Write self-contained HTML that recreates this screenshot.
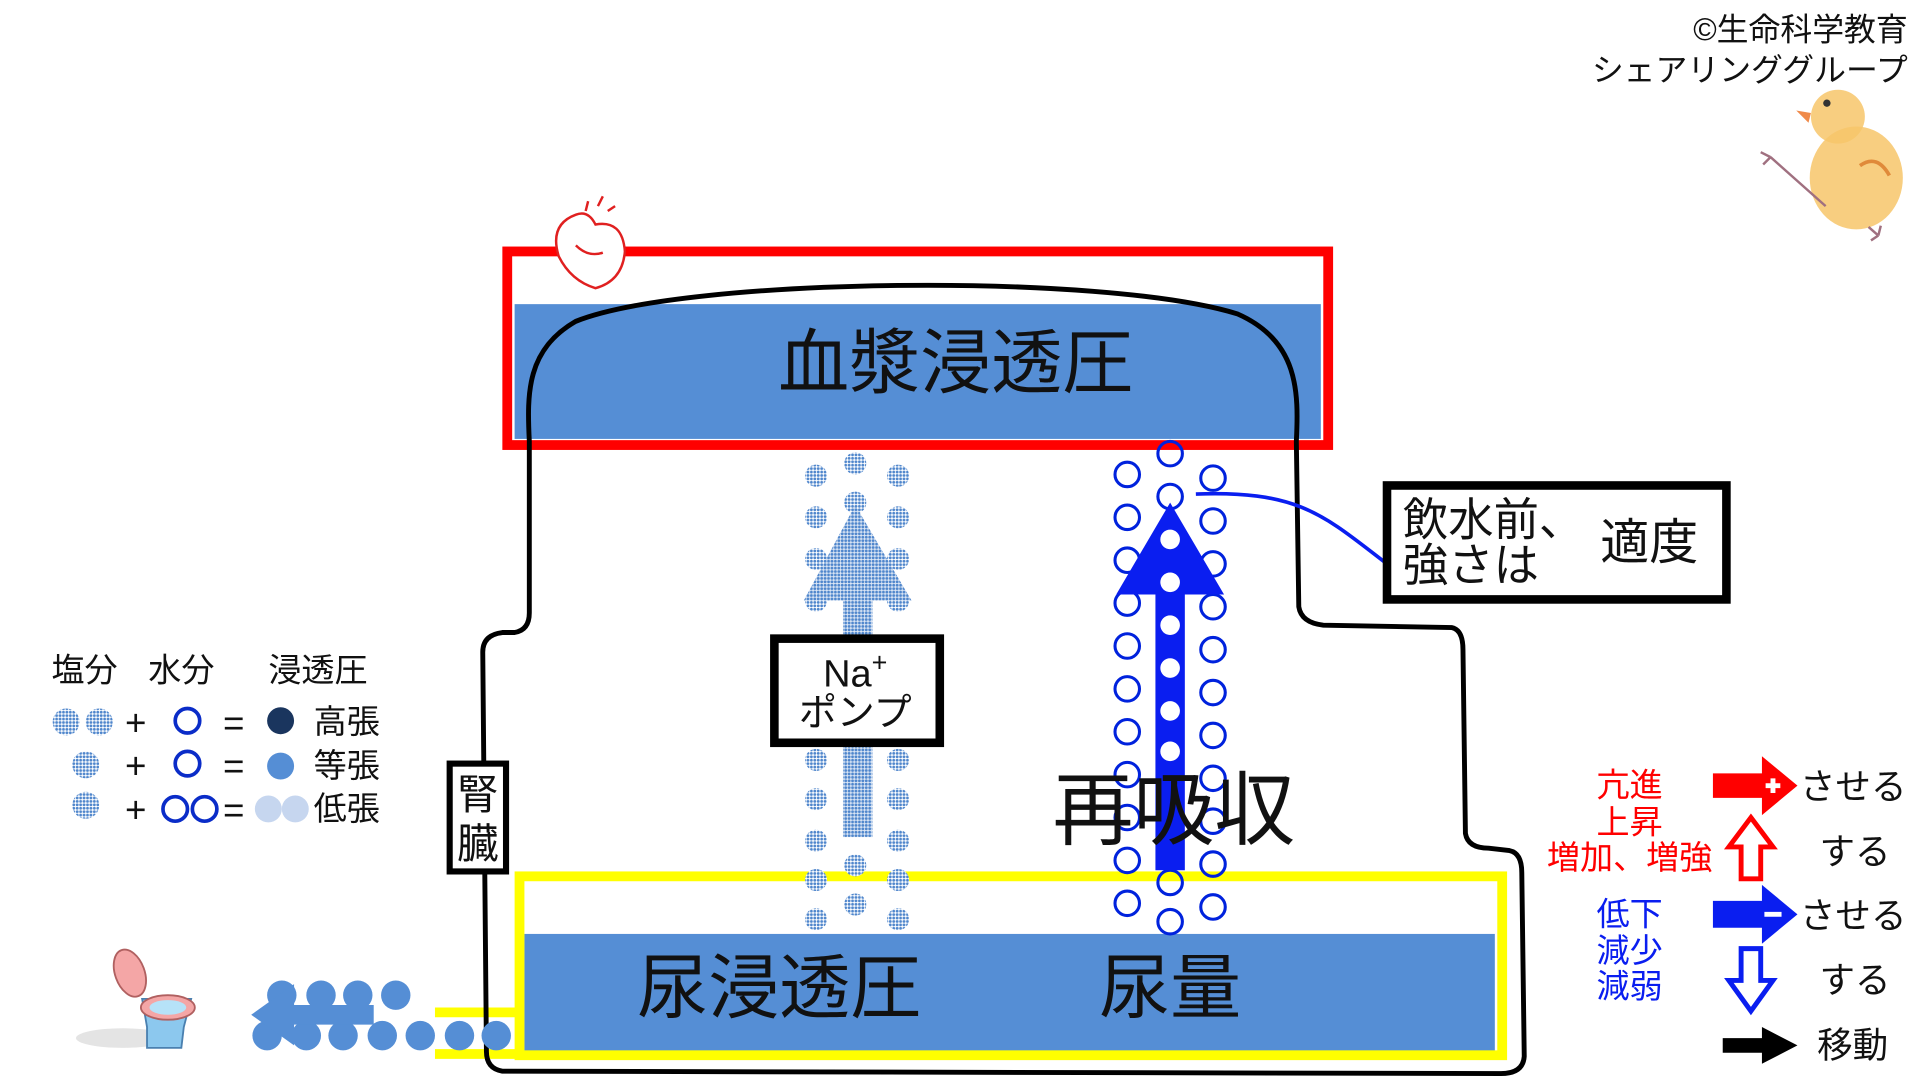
<!DOCTYPE html>
<html><head><meta charset="utf-8"><style>
html,body{margin:0;padding:0;background:#fff;}
svg{display:block;}
text{font-family:"Liberation Sans","Noto Sans CJK JP",sans-serif;}
</style></head><body>
<svg width="1920" height="1080" viewBox="0 0 1567 881" xmlns="http://www.w3.org/2000/svg">
<defs>
<pattern id="dp" width="2.8" height="2.8" patternUnits="userSpaceOnUse">
<rect width="2.8" height="2.8" fill="#fff"/><circle cx="1.4" cy="1.4" r="1.15" fill="#4f86cc"/>
</pattern>
<pattern id="dp2" width="2.8" height="2.8" patternUnits="userSpaceOnUse">
<rect width="2.8" height="2.8" fill="#dde7f5"/><circle cx="1.4" cy="1.4" r="1.15" fill="#4f86cc"/>
</pattern>
</defs>

<text x="1557" y="33" font-size="26" text-anchor="end" fill="#111">©生命科学教育</text>
<text x="1557" y="66" font-size="26" text-anchor="end" fill="#111">シェアリンググループ</text>
<g>
<ellipse cx="1500" cy="95" rx="22" ry="22" fill="#f7c56a" opacity="0.85"/>
<ellipse cx="1515" cy="145" rx="38" ry="42" fill="#f7c56a" opacity="0.85"/>
<path d="M1518 135 q14 -10 24 8" stroke="#e08a3a" stroke-width="3" fill="none"/>
<polygon points="1478,92 1466,90 1476,100" fill="#f08a4a"/>
<circle cx="1491" cy="84" r="3" fill="#333"/>
<path d="M1490 168 L1445 128 M1445 128 l-8 -4 M1445 128 l-6 6" stroke="#a07080" stroke-width="2" fill="none"/>
<path d="M1525 185 L1533 192 M1533 192 l-6 4 M1533 192 l2 -8" stroke="#a07080" stroke-width="2" fill="none"/>
</g>

<rect x="420" y="248" width="658" height="110" fill="#558ED5"/>
<rect x="414" y="205" width="670" height="158" fill="none" stroke="#ff0000" stroke-width="8"/>
<text x="780" y="316" font-size="58" text-anchor="middle" fill="#111">血漿浸透圧</text>
<g stroke="#e02020" stroke-width="2" fill="#fff">
<path d="M470 175 q-22 8 -14 34 q10 20 30 26 q22 -6 24 -30 q-2 -26 -24 -22 q-6 -12 -16 -8z"/>
<path d="M478 172 l2 -8 M488 168 l4 -8 M496 172 l6 -4" fill="none"/>
<path d="M470 200 q10 10 22 6" fill="none"/>
</g>

<rect x="428" y="762" width="792" height="96" fill="#558ED5"/>
<rect x="424" y="715" width="802" height="146" fill="none" stroke="#ffff00" stroke-width="8"/>
<line x1="355" y1="826" x2="424" y2="826" stroke="#ffff00" stroke-width="8"/>
<line x1="355" y1="860" x2="424" y2="860" stroke="#ffff00" stroke-width="8"/>
<text x="636" y="826" font-size="58" text-anchor="middle" fill="#111">尿浸透圧</text>
<text x="955" y="826" font-size="58" text-anchor="middle" fill="#111">尿量</text>

<path d="M432 360 C430 320 430 285 470 262 C560 226 900 222 1010 256 C1060 278 1060 320 1058 360 L1060 495 Q1062 508 1080 510 L1185 512 Q1194 514 1194 530 L1196 680 Q1198 692 1215 692 L1232 694 Q1242 696 1242 712 L1244 862 Q1243 876 1225 876 L410 874 Q397 872 397 858 L394 532 Q394 518 410 516 L420 516 Q432 514 432 500 Z" fill="none" stroke="#000" stroke-width="4"/>

<g fill="url(#dp)">
<circle cx="666" cy="388" r="9"/><circle cx="733" cy="388" r="9"/><circle cx="698" cy="378" r="9"/>
<circle cx="666" cy="422" r="9"/><circle cx="733" cy="422" r="9"/><circle cx="698" cy="410" r="9"/>
<circle cx="666" cy="456" r="9"/><circle cx="733" cy="456" r="9"/>
<circle cx="666" cy="490" r="9"/><circle cx="733" cy="490" r="9"/>
<circle cx="666" cy="620" r="9"/><circle cx="733" cy="620" r="9"/>
<circle cx="666" cy="652" r="9"/><circle cx="733" cy="652" r="9"/>
<circle cx="666" cy="686" r="9"/><circle cx="733" cy="686" r="9"/>
<circle cx="666" cy="718" r="9"/><circle cx="733" cy="718" r="9"/><circle cx="698" cy="706" r="9"/>
<circle cx="666" cy="750" r="9"/><circle cx="733" cy="750" r="9"/><circle cx="698" cy="738" r="9"/>
</g>
<polygon points="698,412 744,490 712,490 712,683 688,683 688,490 656,490" fill="url(#dp2)"/>
<rect x="632" y="521" width="135" height="85" fill="#fff" stroke="#000" stroke-width="7"/>
<text x="698" y="560" font-size="31" text-anchor="middle" fill="#111">Na<tspan font-size="22" dy="-12">+</tspan></text>
<text x="698" y="592" font-size="31" text-anchor="middle" fill="#111">ポンプ</text>

<g fill="none" stroke="#0022dd" stroke-width="2.5">
<circle cx="920" cy="387" r="10"/><circle cx="990" cy="390" r="10"/>
<circle cx="920" cy="422" r="10"/><circle cx="990" cy="425" r="10"/>
<circle cx="920" cy="457" r="10"/><circle cx="990" cy="460" r="10"/>
<circle cx="920" cy="492" r="10"/><circle cx="990" cy="495" r="10"/>
<circle cx="920" cy="527" r="10"/><circle cx="990" cy="530" r="10"/>
<circle cx="920" cy="562" r="10"/><circle cx="990" cy="565" r="10"/>
<circle cx="920" cy="597" r="10"/><circle cx="990" cy="600" r="10"/>
<circle cx="920" cy="632" r="10"/><circle cx="990" cy="635" r="10"/>
<circle cx="920" cy="667" r="10"/><circle cx="990" cy="670" r="10"/>
<circle cx="920" cy="702" r="10"/><circle cx="990" cy="705" r="10"/>
<circle cx="920" cy="737" r="10"/><circle cx="990" cy="740" r="10"/>
<circle cx="955" cy="370" r="10"/><circle cx="955" cy="405" r="10"/>
<circle cx="955" cy="720" r="10"/><circle cx="955" cy="752" r="10"/>
</g>
<polygon points="955,410 999,485 967,485 967,710 943,710 943,485 911,485" fill="#0a1ef0"/>
<g fill="#fff">
<circle cx="955" cy="440" r="8"/><circle cx="955" cy="475" r="8"/><circle cx="955" cy="510" r="8"/>
<circle cx="955" cy="545" r="8"/><circle cx="955" cy="580" r="8"/><circle cx="955" cy="613" r="8"/>
</g>
<text x="958" y="684" font-size="66" text-anchor="middle" fill="#111">再吸収</text>

<path d="M976 403 C1060 400 1080 420 1132 460" fill="none" stroke="#0a1ef0" stroke-width="3"/>
<rect x="1132" y="396" width="277" height="93" fill="#fff" stroke="#000" stroke-width="7"/>
<text x="1145" y="437" font-size="37" fill="#111">飲水前、</text>
<text x="1145" y="474" font-size="37" fill="#111">強さは</text>
<text x="1306" y="456" font-size="40" fill="#111">適度</text>

<rect x="367" y="623" width="46" height="88" fill="#fff" stroke="#000" stroke-width="5"/>
<text x="390" y="660" font-size="34" text-anchor="middle" fill="#111">腎</text>
<text x="390" y="700" font-size="34" text-anchor="middle" fill="#111">臓</text>

<g fill="#558ED5">
<circle cx="230" cy="812" r="12"/><circle cx="262" cy="812" r="12"/><circle cx="292" cy="812" r="12"/><circle cx="323" cy="812" r="12"/>
<circle cx="218" cy="845" r="12"/><circle cx="250" cy="845" r="12"/><circle cx="280" cy="845" r="12"/><circle cx="312" cy="845" r="12"/><circle cx="343" cy="845" r="12"/><circle cx="375" cy="845" r="12"/><circle cx="405" cy="845" r="12"/>
<polygon points="205,828 240,803 240,820 305,820 305,836 240,836 240,853"/>
</g>
<ellipse cx="100" cy="847" rx="38" ry="8" fill="#e4e4e4"/>
<ellipse cx="106" cy="794" rx="12" ry="20" fill="#f4a6a6" stroke="#b06060" stroke-width="1.5" transform="rotate(-20 106 794)"/>
<path d="M116 815 L156 815 L150 838 L148 855 L120 855 L120 838 Z" fill="#8cc8ee" stroke="#4a80b0" stroke-width="1.5"/>
<ellipse cx="137" cy="822" rx="22" ry="10" fill="#f4a6a6" stroke="#b06060" stroke-width="1.5"/>
<ellipse cx="137" cy="822" rx="15" ry="6" fill="#b6e2f8"/>

<text x="42" y="556" font-size="27" fill="#111">塩分</text>
<text x="121" y="556" font-size="27" fill="#111">水分</text>
<text x="219" y="556" font-size="27" fill="#111">浸透圧</text>
<g fill="url(#dp)">
<circle cx="54" cy="589" r="11"/><circle cx="81" cy="589" r="11"/>
<circle cx="70" cy="624" r="11"/><circle cx="70" cy="657" r="11"/>
</g>
<g font-size="30" fill="#111">
<text x="102" y="600">+</text><text x="102" y="635">+</text><text x="102" y="671">+</text>
<text x="182" y="600">=</text><text x="182" y="635">=</text><text x="182" y="671">=</text>
</g>
<g fill="none" stroke="#0a2cc8" stroke-width="3">
<circle cx="153" cy="588" r="10"/><circle cx="153" cy="623" r="10"/>
<circle cx="143" cy="660" r="10"/><circle cx="167" cy="660" r="10"/>
</g>
<circle cx="229" cy="588" r="11" fill="#1a355e"/>
<circle cx="229" cy="625" r="11" fill="#558ED5"/>
<circle cx="219" cy="660" r="11" fill="#c6d6ef"/><circle cx="241" cy="660" r="11" fill="#c6d6ef"/>
<g font-size="27" fill="#111">
<text x="256" y="598">高張</text><text x="256" y="634">等張</text><text x="256" y="669">低張</text>
</g>

<g font-size="27" fill="#ff0000" text-anchor="middle">
<text x="1330" y="650">亢進</text><text x="1330" y="680">上昇</text><text x="1330" y="709">増加、増強</text>
</g>
<g font-size="27" fill="#0a1ef0" text-anchor="middle">
<text x="1330" y="755">低下</text><text x="1330" y="785">減少</text><text x="1330" y="814">減弱</text>
</g>
<polygon points="1398,631 1438,631 1438,617 1467,641 1438,665 1438,651 1398,651" fill="#ff0000"/>
<path d="M1441 641 h12 M1447 635 v12" stroke="#fff" stroke-width="4"/>
<polygon points="1429,667 1447,691 1437,691 1437,717 1421,717 1421,691 1411,691" fill="#fff" stroke="#ff0000" stroke-width="4"/>
<polygon points="1398,735 1438,735 1438,722 1467,746 1438,770 1438,757 1398,757" fill="#0a1ef0"/>
<path d="M1440 746 h14" stroke="#fff" stroke-width="4"/>
<polygon points="1429,825 1447,800 1437,800 1437,774 1421,774 1421,800 1411,800" fill="#fff" stroke="#0a1ef0" stroke-width="4"/>
<polygon points="1406,847 1438,847 1438,838 1467,853 1438,868 1438,859 1406,859" fill="#000"/>
<g font-size="29" fill="#111">
<text x="1469" y="652">させる</text><text x="1485" y="705">する</text>
<text x="1469" y="757">させる</text><text x="1485" y="810">する</text>
<text x="1483" y="863">移動</text>
</g>
</svg>
</body></html>
